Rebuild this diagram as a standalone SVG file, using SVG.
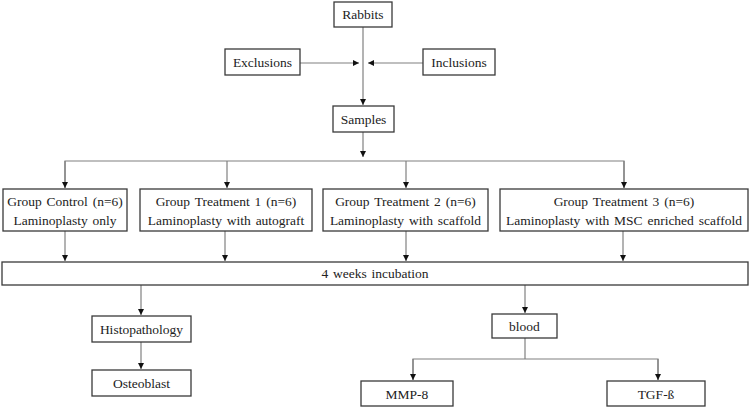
<svg xmlns="http://www.w3.org/2000/svg" width="750" height="407" viewBox="0 0 750 407">
<style>
.box{fill:#fff;stroke:#3a3a3a;stroke-width:1.3}
.ln{fill:none;stroke:#808080;stroke-width:1.2}
.t{font-family:"Liberation Serif","Times New Roman",serif;font-size:13.5px;fill:#222;text-anchor:middle;word-spacing:1.5px}
</style>
<defs>
<marker id="ah" viewBox="0 0 10 10" refX="10" refY="5" markerWidth="6" markerHeight="6" orient="auto" markerUnits="userSpaceOnUse">
<path d="M0,0 L10,5 L0,10 z" fill="#111"/>
</marker>
</defs>
<rect width="750" height="407" fill="#fff"/>
<g id="connectors">
<line class="ln" x1="363" y1="27" x2="363" y2="105" marker-end="url(#ah)"/>
<line class="ln" x1="300" y1="63" x2="359" y2="63" marker-end="url(#ah)"/>
<line class="ln" x1="423" y1="63" x2="368" y2="63" marker-end="url(#ah)"/>
<line class="ln" x1="363" y1="132" x2="363" y2="157" marker-end="url(#ah)"/>
<polyline class="ln" points="65,188 65,161 624,161 624,188" />
<line class="ln" x1="65" y1="161" x2="65" y2="188" marker-end="url(#ah)"/>
<line class="ln" x1="227" y1="161" x2="227" y2="188" marker-end="url(#ah)"/>
<line class="ln" x1="406" y1="161" x2="406" y2="188" marker-end="url(#ah)"/>
<line class="ln" x1="624" y1="161" x2="624" y2="188" marker-end="url(#ah)"/>
<line class="ln" x1="65" y1="231" x2="65" y2="261" marker-end="url(#ah)"/>
<line class="ln" x1="225" y1="231" x2="225" y2="261" marker-end="url(#ah)"/>
<line class="ln" x1="406" y1="231" x2="406" y2="261" marker-end="url(#ah)"/>
<line class="ln" x1="623" y1="231" x2="623" y2="261" marker-end="url(#ah)"/>
<line class="ln" x1="141" y1="285" x2="141" y2="315" marker-end="url(#ah)"/>
<line class="ln" x1="141" y1="342" x2="141" y2="369" marker-end="url(#ah)"/>
<line class="ln" x1="525" y1="285" x2="525" y2="313" marker-end="url(#ah)"/>
<polyline class="ln" points="525,338 525,359"/>
<polyline class="ln" points="413,380 413,359 658,359 658,380"/>
<line class="ln" x1="413" y1="359" x2="413" y2="380" marker-end="url(#ah)"/>
<line class="ln" x1="658" y1="359" x2="658" y2="380" marker-end="url(#ah)"/>
</g>
<g id="rabbits"><rect class="box" x="334" y="2" width="58" height="25"/><text class="t" x="363" y="19">Rabbits</text></g>
<g id="exclusions"><rect class="box" x="225" y="49" width="75" height="26"/><text class="t" x="262.5" y="67">Exclusions</text></g>
<g id="inclusions"><rect class="box" x="423" y="49" width="72" height="26"/><text class="t" x="459" y="67">Inclusions</text></g>
<g id="samples"><rect class="box" x="333" y="106" width="61" height="26"/><text class="t" x="363.5" y="124">Samples</text></g>
<g id="control"><rect class="box" x="3" y="189" width="124" height="42"/><text class="t" x="65" y="206">Group Control (n=6)</text><text class="t" x="65" y="225">Laminoplasty only</text></g>
<g id="treatment1"><rect class="box" x="140" y="189" width="172" height="42"/><text class="t" x="226" y="206">Group Treatment 1 (n=6)</text><text class="t" x="226" y="225">Laminoplasty with autograft</text></g>
<g id="treatment2"><rect class="box" x="323" y="189" width="165" height="42"/><text class="t" x="405.5" y="206">Group Treatment 2 (n=6)</text><text class="t" x="405.5" y="225">Laminoplasty with scaffold</text></g>
<g id="treatment3"><rect class="box" x="500" y="189" width="248" height="42"/><text class="t" x="624" y="206">Group Treatment 3 (n=6)</text><text class="t" x="624" y="225">Laminoplasty with MSC enriched scaffold</text></g>
<g id="incubation"><rect class="box" x="2" y="262" width="746" height="23"/><text class="t" x="375" y="278">4 weeks incubation</text></g>
<g id="histopathology"><rect class="box" x="92" y="316" width="99" height="26"/><text class="t" x="141.5" y="334">Histopathology</text></g>
<g id="osteoblast"><rect class="box" x="92" y="370" width="99" height="26"/><text class="t" x="141.5" y="388">Osteoblast</text></g>
<g id="blood"><rect class="box" x="492" y="314" width="65" height="24"/><text class="t" x="524.5" y="331">blood</text></g>
<g id="mmp8"><rect class="box" x="361" y="381" width="92" height="25"/><text class="t" x="407" y="399">MMP-8</text></g>
<g id="tgfb"><rect class="box" x="607" y="381" width="98" height="25"/><text class="t" x="656" y="399">TGF-ß</text></g>
</svg>
